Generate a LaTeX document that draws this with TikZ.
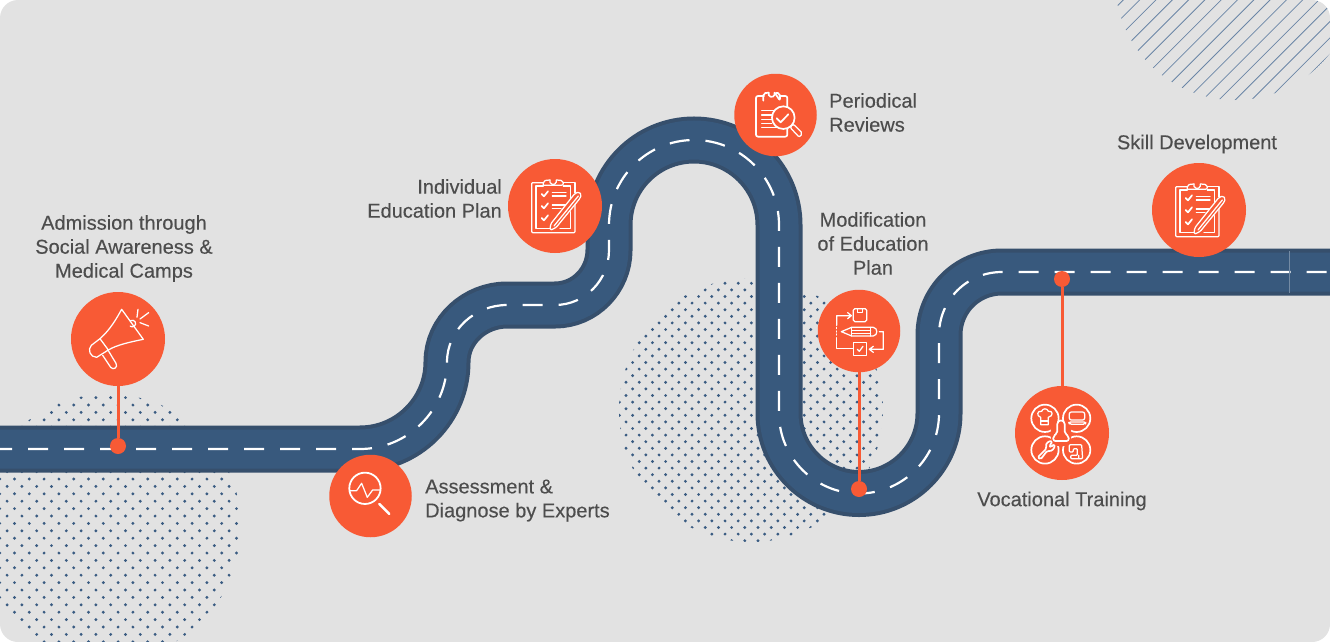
\documentclass[tikz,border=0pt]{standalone}
\usepackage{fontspec}
\setmainfont{Liberation Sans}
\newfontfamily\lblfont[FakeBold=0.2]{Liberation Sans}
\definecolor{bgc}{HTML}{E2E2E2}
\definecolor{roadin}{HTML}{38597D}
\definecolor{roadout}{HTML}{364F6C}
\definecolor{org}{HTML}{F85A35}
\definecolor{txt}{HTML}{4D4D4D}
\definecolor{dotc}{HTML}{3A5C82}
\definecolor{stripec}{HTML}{6A86A6}
\tikzset{
 stopbig/.style={circle,fill=org,inner sep=0pt,minimum size=94pt},
 stopmid/.style={circle,fill=org,inner sep=0pt,minimum size=82.5pt},
 roaddot/.style={circle,fill=org,inner sep=0pt,minimum size=16pt},
 linkline/.style={draw=org,line width=3pt},
 label/.style={text=txt,font=\lblfont\fontsize{20}{24}\selectfont,inner sep=0pt,align=center},
 ico/.style={draw=white,line width=1.25pt,line join=round,line cap=round},
 icofat/.style={draw=white,line width=1.7pt,line join=round,line cap=round}
}
\newcommand{\roadpath}{(-5,449) -- (360,449) .. controls (408,449) and (447,410) .. (447,362)
 .. controls (447,330) and (475,305) .. (507,305) -- (555,305)
 .. controls (585,305) and (609,280) .. (609,250) -- (609,225)
 .. controls (609,178) and (647,140) .. (694,140) .. controls (741,140) and (779,178) .. (779,225)
 -- (779,413.5) .. controls (779,457.5) and (815,493.5) .. (859,493.5)
 .. controls (903,493.5) and (939,457.5) .. (939,413.5) -- (939,335)
 .. controls (939,300) and (967,272) .. (1002,272) -- (1335,272)}
\newcommand{\dotfield}[6]{% cx cy r x0 y0 pitch
 \begin{scope}
 \clip (#1,#2) circle[radius=#3pt];
 \foreach \i in {-11,...,11} \foreach \j in {-11,...,11} {
   \fill[dotc] ({#4+#6*\i},{#5+#6*\j}) circle[radius=1.6pt];
   \fill[dotc] ({#4+#6*\i+#6/2},{#5+#6*\j+#6/2}) circle[radius=1.6pt];
 }
 \end{scope}}
\newcommand{\clipicon}[2]{%
 \begin{scope}[shift={(#1,#2)},x=0.3333pt,y=-0.3333pt]
 \draw[ico,rounded corners=1pt] (190,368) -- (155,368) -- (155,518) -- (285,518) -- (285,420);
 \draw[ico] (285,368) -- (250,368) (285,368) -- (285,398);
 \draw[ico] (190,378) -- (168,378) -- (168,505) -- (215,505) (240,505) -- (272,505) -- (272,455) (272,415) -- (272,378) -- (250,378);
 \draw[ico,rounded corners=2pt] (190,376) -- (190,362) -- (210,360) (230,360) -- (250,362) -- (250,376) -- (190,376);
 \draw[ico] (210,360) arc[start angle=200,end angle=-20,radius=10];
 \foreach \yy in {402,438,474} \draw[icofat] (185,\yy) -- (192,\yy+7) -- (204,\yy-8);
 \draw[ico] (217,397) -- (258,397) (217,408) -- (258,408) (217,435) -- (258,435) (217,445) -- (243,445);
 \draw[ico,fill=org,rounded corners=1.5pt] (212,492) -- (285,400) -- (298,396) -- (304,405) -- (300,415) -- (228,503) -- (210,511) -- cycle;
 \draw[ico] (222,498) -- (295,408);
 \end{scope}}
\begin{document}
\begin{tikzpicture}[x=1pt,y=-1pt]
\useasboundingbox (0,0) rectangle (1330,642);
\fill[white] (0,0) rectangle (1330,642);
\path[fill=bgc,rounded corners=18pt] (0,0) rectangle (1330,642);
\begin{scope}
 \clip[rounded corners=18pt] (0,0) rectangle (1330,642);
 \dotfield{108}{527}{133}{103.3}{523.4}{14.8}
 \dotfield{751}{410}{132}{751.4}{415.3}{13.2}
 \begin{scope}
 \clip (1235,-20) circle[radius=120pt];
 \foreach \k [evaluate=\k as \c using 1123.3+16.3*\k] in {0,...,18}
   \draw[stripec,line width=0.8pt] (\c+40,-40) -- (\c-160,160);
 \end{scope}
\end{scope}
% road
\draw[roadout,line width=47pt] \roadpath;
\draw[roadin,line width=39pt] \roadpath;
\draw[white,line width=2.2pt,dash pattern=on 20pt off 16pt,dash phase=3pt] \roadpath;
\draw[roadin!70!white,line width=0.5pt] (1289.5,251) -- (1289.5,293);
% stops
\node[stopbig] (s1) at (118,339) {};
\node[stopmid] (s2) at (370.5,496) {};
\node[stopbig] (s3) at (555,206) {};
\node[stopmid] (s4) at (775.5,115) {};
\node[stopmid] (s5) at (859,331) {};
\node[stopbig] (s6) at (1062,433) {};
\node[stopbig] (s7) at (1199,210) {};
\node[roaddot] (d1) at (118,446) {};
\node[roaddot] (d5) at (859,489) {};
\node[roaddot] (d6) at (1062,279) {};
\draw[linkline] (s1) -- (d1);
\draw[linkline] (s5) -- (d5);
\draw[linkline] (s6) -- (d6);
% megaphone
\begin{scope}[shift={(0,280)},x=0.3333pt,y=-0.3333pt]
 \draw[ico] (300,176) .. controls (330,150) and (350,115) .. (365,88) -- (430,178) .. controls (390,186) and (350,195) .. (325,210);
 \draw[ico] (300,176) -- (274,196) .. controls (262,208) and (270,232) .. (290,232) -- (325,210) -- (300,176);
 \draw[ico] (308,226) -- (332,262) .. controls (340,272) and (355,262) .. (348,250) -- (325,212);
 \draw[ico] (392,122) arc[start angle=-120,end angle=130,radius=10];
 \draw[ico] (411,112) -- (414,88) (420,117) -- (446,98) (420,128) -- (446,138);
\end{scope}
% search
\begin{scope}[shift={(0,280)},x=0.3333pt,y=-0.3333pt]
 \draw[ico,line width=1.8pt] (1095,625) circle[radius=47];
 \draw[ico] (1050,632) -- (1070,632) -- (1085,610) -- (1102,652) -- (1118,630) -- (1140,630);
 \draw[icofat,line width=2.4pt] (1138,672) -- (1168,702);
\end{scope}
\clipicon{480}{60}
\clipicon{1124}{64}
% review
\begin{scope}[shift={(480,60)},x=0.3333pt,y=-0.3333pt]
 \draw[icofat,rounded corners=2pt] (852,108) -- (828,108) -- (828,230) -- (922,230) -- (922,190);
 \draw[icofat,rounded corners=2pt] (898,108) -- (922,108) -- (922,145);
 \draw[icofat,rounded corners=2pt] (850,122) -- (850,100) -- (866,98) (884,98) -- (900,100) -- (900,122) -- cycle;
 \draw[icofat] (866,98) arc[start angle=200,end angle=-20,radius=9.5];
 \draw[ico] (845,152) -- (885,152) (845,165) -- (878,165) (845,178) -- (875,178) (845,190) -- (875,190) (845,203) -- (890,203);
 \draw[icofat,fill=org] (910,173) circle[radius=34];
 \draw[icofat] (890,175) -- (902,187) -- (925,163);
 \draw[ico,rounded corners=2pt] (930,202) -- (940,192) -- (968,220) -- (958,232) -- cycle;
\end{scope}
% modification
\begin{scope}[shift={(780,270)},x=0.3333pt,y=-0.3333pt]
 \draw[ico,rounded corners=1.5pt] (220,116) rectangle (260,155);
 \draw[ico] (232,116) -- (232,128) -- (248,128) -- (248,116);
 \draw[ico] (170,166) -- (170,137) -- (212,137) (203,128) -- (214,137) -- (203,146);
 \draw[ico] (170,172) -- (170,176) (170,183) -- (170,186) (170,192) -- (170,195);
 \draw[ico] (184,185) -- (215,172) -- (280,172) .. controls (294,174) and (294,196) .. (280,198) -- (215,198) -- cycle;
 \draw[ico] (215,172) -- (215,198) (272,172) -- (272,198) (215,181) -- (272,181) (215,190) -- (272,190);
 \draw[ico] (170,203) -- (170,235) -- (220,235);
 \draw[ico] (220,217) rectangle (260,256);
 \draw[ico] (232,238) -- (238,244) -- (249,229);
 \draw[ico] (298,185) -- (310,185) -- (310,238) -- (270,238) (280,229) -- (268,238) -- (280,247);
\end{scope}
% vocational
\begin{scope}[shift={(780,270)},x=0.3333pt,y=-0.3333pt]
 \draw[icofat] (795,445) circle[radius=41] (890,445) circle[radius=41] (795,540) circle[radius=41] (890,540) circle[radius=41];
 \fill[org] (843,492) ellipse[x radius=32,y radius=38];
 \draw[icofat,rounded corners=2pt] (820,513) -- (820,498) -- (832,490) -- (832,468) .. controls (832,448) and (854,448) .. (854,468) -- (854,490) -- (866,498) -- (866,513) -- cycle;
 \draw[ico] (782,442) .. controls (768,438) and (772,420) .. (785,424) .. controls (788,414) and (802,414) .. (805,424) .. controls (818,420) and (822,438) .. (805,442) -- (805,464) -- (782,464) -- cycle;
 \draw[ico] (782,453) -- (805,453);
 \draw[ico,rounded corners=2pt] (868,450) -- (868,426) -- (914,426) -- (914,450) -- cycle (866,456) -- (918,456) -- (916,463) -- (868,463) -- cycle;
 \draw[icofat,rounded corners=1.5pt] (773,562) -- (800,535) .. controls (795,520) and (808,512) .. (818,515) -- (808,527) -- (812,532) -- (823,522) .. controls (825,535) and (815,545) .. (802,542) -- (782,568) -- cycle;
 \draw[ico,rounded corners=1pt] (868,540) -- (868,524) -- (905,524) -- (908,566) -- (872,566) -- (872,556) -- (892,556) -- (892,536) -- (880,536) -- (880,546) -- (868,546) -- cycle (896,566) -- (896,556);
\end{scope}
% labels
\node[label] (t1) at (124,248.5) {Admission through\\Social Awareness \&\\Medical Camps};
\node[label,anchor=west,align=left] (t2) at (425,500.5) {Assessment \&\\Diagnose by Experts};
\node[label,anchor=east,align=right] (t3) at (502,198.5) {Individual\\Education Plan};
\node[label,anchor=west,align=left] (t4) at (829,112.5) {Periodical\\Reviews};
\node[label] (t5) at (873,243.5) {Modification\\of Education\\Plan};
\node[label] (t6) at (1062,501) {Vocational Training};
\node[label] (t7) at (1197,144) {Skill Development};
\end{tikzpicture}
\end{document}
